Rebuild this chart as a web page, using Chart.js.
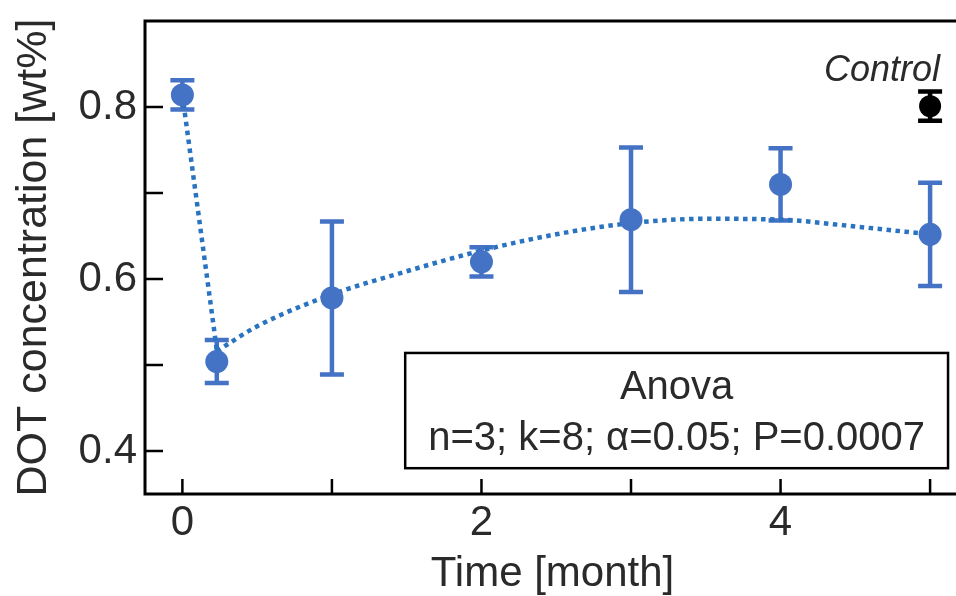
<!DOCTYPE html>
<html><head><meta charset="utf-8">
<script src="https://cdn.jsdelivr.net/npm/chart.js@4.4.1/dist/chart.umd.min.js"></script>
<style>html,body{margin:0;padding:0;overflow:hidden;background:#fff;width:956px;height:596px}</style>
</head><body>
<canvas id="c" width="975" height="596" style="display:block;width:975px;height:596px"></canvas>
<script>
// ---- data ----
const times = [0, 0.23, 1, 2, 3, 4, 5];
const meanDOT = [0.814, 0.504, 0.578, 0.620, 0.669, 0.710, 0.652];
const errDOT = [0.017, 0.025, 0.089, 0.017, 0.084, 0.042, 0.060];
const controlTime = [5];
const controlDOT = [0.801];
const controlErr = [0.017];
const dropTime = [0, 0.23];
const dropDOT = [0.814, 0.518];
const fitTime = [0.23, 0.5, 1, 1.5, 2, 2.5, 3, 3.5, 4, 4.5, 5];
const fitDOT = [0.516, 0.545, 0.582, 0.609, 0.633, 0.652, 0.665, 0.670, 0.669, 0.661, 0.652];
const xTickValues = [0, 1, 2, 3, 4, 5];
const xTickLabels = ['0', '2', '4'];
const yTickValues = [0.4, 0.5, 0.6, 0.7, 0.8];
const yTickLabels = ['0.4', '0.6', '0.8'];
const anovaLines = ['Anova', 'n=3; k=8; \u03b1=0.05; P=0.0007'];
const controlLabel = 'Control';

const FONT = "'Liberation Sans', Arial, sans-serif";
const TEXT = '#2a2a2a';
const BLUE = '#4472C4';
const LINEBLUE = '#2a73c0';

const toPts = (xs, ys) => xs.map((x, i) => ({x, y: ys[i]}));

const decor = {
  id: 'decor',
  beforeDatasetsDraw(chart) {
    const ctx = chart.ctx, xs = chart.scales.x, ys = chart.scales.y;
    const bars = (tx, my, er, col) => {
      ctx.save();
      ctx.strokeStyle = col; ctx.lineWidth = 4.5; ctx.lineCap = 'butt';
      tx.forEach((t, i) => {
        const px = xs.getPixelForValue(t);
        const top = ys.getPixelForValue(my[i] + er[i]);
        const bot = ys.getPixelForValue(my[i] - er[i]);
        ctx.beginPath();
        ctx.moveTo(px, top); ctx.lineTo(px, bot);
        ctx.moveTo(px - 12, top); ctx.lineTo(px + 12, top);
        ctx.moveTo(px - 12, bot); ctx.lineTo(px + 12, bot);
        ctx.stroke();
      });
      ctx.restore();
    };
    bars(times, meanDOT, errDOT, BLUE);
    bars(controlTime, controlDOT, controlErr, '#000');
  },
  afterDatasetsDraw(chart) {
    const ctx = chart.ctx, xs = chart.scales.x, ys = chart.scales.y;
    const a = chart.chartArea;
    ctx.save();
    ctx.strokeStyle = '#000'; ctx.lineWidth = 3;
    ctx.beginPath();
    ctx.moveTo(a.right + 20, a.top); ctx.lineTo(a.left, a.top);
    ctx.lineTo(a.left, a.bottom); ctx.lineTo(a.right + 20, a.bottom);
    ctx.stroke();
    ctx.lineWidth = 2.5;
    ctx.beginPath();
    yTickValues.forEach(v => {
      const py = ys.getPixelForValue(v);
      ctx.moveTo(a.left, py); ctx.lineTo(a.left + 18, py);
    });
    xTickValues.forEach(v => {
      const px = xs.getPixelForValue(v);
      ctx.moveTo(px, a.bottom); ctx.lineTo(px, a.bottom - 15);
    });
    ctx.stroke();
    const bx1 = xs.getPixelForValue(1.49), bx2 = xs.getPixelForValue(5.12);
    const by1 = ys.getPixelForValue(0.514), by2 = ys.getPixelForValue(0.380);
    ctx.lineWidth = 2.5;
    ctx.strokeRect(bx1, by1, bx2 - bx1, by2 - by1);
    ctx.fillStyle = TEXT;
    ctx.font = '40px ' + FONT;
    ctx.textAlign = 'center'; ctx.textBaseline = 'alphabetic';
    const cx = (bx1 + bx2) / 2;
    ctx.fillText(anovaLines[0], cx, by1 + 46);
    ctx.fillText(anovaLines[1], cx, by1 + 97);
    ctx.font = 'italic 36px ' + FONT;
    ctx.textAlign = 'right';
    ctx.fillText(controlLabel, xs.getPixelForValue(controlTime[0]) + 10, ys.getPixelForValue(controlDOT[0]) - 25);
    ctx.restore();
  }
};

new Chart(document.getElementById('c'), {
  type: 'scatter',
  data: {
    datasets: [
      {data: toPts(dropTime, dropDOT), type: 'line', showLine: true, borderColor: LINEBLUE,
       borderWidth: 4.5, borderDash: [4.5, 4.5], pointRadius: 0, order: 3, fill: false},
      {data: toPts(fitTime, fitDOT), type: 'line', showLine: true, borderColor: LINEBLUE,
       borderWidth: 4.5, borderDash: [4.5, 4.5], pointRadius: 0, cubicInterpolationMode: 'monotone',
       order: 3, fill: false},
      {data: toPts(times, meanDOT), backgroundColor: BLUE, borderColor: BLUE, borderWidth: 0,
       pointRadius: 11.5, order: 1},
      {data: toPts(controlTime, controlDOT), backgroundColor: '#000', borderColor: '#000', borderWidth: 0,
       pointRadius: 11, order: 1}
    ]
  },
  options: {
    responsive: false, animation: false, devicePixelRatio: 1,
    layout: {padding: {top: 21, right: 15, left: 0, bottom: 0}},
    plugins: {legend: {display: false}, tooltip: {enabled: false}},
    scales: {
      x: {
        type: 'linear', min: -0.25, max: 5.2,
        border: {display: false},
        grid: {display: false, drawTicks: false},
        afterBuildTicks: s => { s.ticks = xTickValues.map(v => ({value: v})); },
        ticks: {
          autoSkip: false, maxRotation: 0, padding: 4,
          color: TEXT, font: {family: FONT, size: 42},
          callback: v => { const s = String(Math.round(v)); return xTickLabels.includes(s) ? s : ''; }
        },
        title: {display: true, text: 'Time [month]', color: TEXT,
                font: {family: FONT, size: 42, lineHeight: 1}, padding: {top: 0, bottom: 1}},
        afterFit: s => { s.height = 102; s.paddingLeft = 0; s.paddingRight = 0; }
      },
      y: {
        type: 'linear', min: 0.35, max: 0.9,
        border: {display: false},
        grid: {display: false, drawTicks: false},
        afterBuildTicks: s => { s.ticks = yTickValues.map(v => ({value: v})); },
        ticks: {
          autoSkip: false, padding: 8,
          color: TEXT, font: {family: FONT, size: 42},
          callback: v => { const s = v.toFixed(1); return yTickLabels.includes(s) ? s : ''; }
        },
        title: {display: true, text: 'DOT concentration [wt%]', color: TEXT,
                font: {family: FONT, size: 43, lineHeight: 1}, padding: {top: 13, bottom: 0}},
        afterFit: s => { s.width = 145; s.paddingTop = 0; s.paddingBottom = 0; }
      }
    }
  },
  plugins: [decor]
});
</script>
</body></html>
